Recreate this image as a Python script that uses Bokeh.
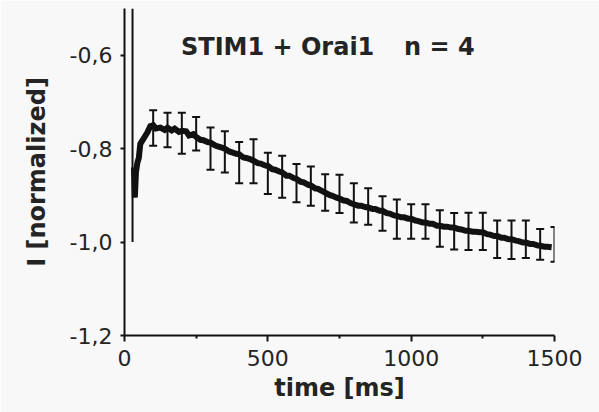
from bokeh.plotting import figure
from bokeh.models import (ColumnDataSource, Whisker, TeeHead, Label, Range1d,
                          FixedTicker)
from bokeh.embed import file_html
from bokeh.resources import INLINE

# ---- data ----
line_t = [33, 36, 40, 45, 50, 55, 60, 70, 80, 90, 100, 110, 125, 140, 150, 165, 175,
          190, 200, 215, 225, 240, 250, 265, 275, 290, 300, 315, 325, 340, 350, 365,
          375, 390, 400, 415, 425, 440, 450, 465, 475, 490, 500, 515, 525, 540, 550,
          565, 575, 590, 600, 615, 625, 640, 650, 665, 675, 690, 700, 715, 725, 740,
          750, 765, 775, 790, 800, 815, 825, 840, 850, 865, 875, 890, 900, 915, 925,
          940, 950, 965, 975, 990, 1000, 1015, 1025, 1040, 1050, 1065, 1075, 1090,
          1100, 1115, 1125, 1140, 1150, 1165, 1175, 1190, 1200, 1215, 1225, 1240,
          1250, 1265, 1275, 1290, 1300, 1315, 1325, 1340, 1350, 1365, 1375, 1390,
          1400, 1415, 1425, 1440, 1450, 1465, 1475, 1490]
line_v = [-0.84, -0.905, -0.85, -0.83, -0.82, -0.79, -0.785, -0.775, -0.765, -0.752,
          -0.750, -0.757, -0.755, -0.760, -0.755, -0.761, -0.757, -0.764, -0.762,
          -0.763, -0.772, -0.769, -0.775, -0.781, -0.782, -0.786, -0.787, -0.793,
          -0.795, -0.798, -0.800, -0.806, -0.808, -0.811, -0.812, -0.819, -0.820,
          -0.823, -0.826, -0.831, -0.832, -0.836, -0.837, -0.844, -0.845, -0.849,
          -0.851, -0.858, -0.858, -0.863, -0.865, -0.871, -0.872, -0.877, -0.879,
          -0.885, -0.886, -0.891, -0.894, -0.899, -0.901, -0.905, -0.907, -0.911,
          -0.912, -0.917, -0.919, -0.922, -0.922, -0.925, -0.926, -0.929, -0.929,
          -0.933, -0.933, -0.938, -0.939, -0.943, -0.944, -0.947, -0.947, -0.950,
          -0.950, -0.954, -0.955, -0.958, -0.958, -0.961, -0.961, -0.965, -0.965,
          -0.967, -0.967, -0.969, -0.969, -0.972, -0.973, -0.976, -0.976, -0.978,
          -0.978, -0.979, -0.979, -0.983, -0.984, -0.987, -0.987, -0.991, -0.991,
          -0.994, -0.994, -0.997, -0.998, -1.001, -1.001, -1.004, -1.004, -1.007,
          -1.008, -1.010, -1.010, -1.011]

err_t = [100, 150, 200, 250, 300, 350, 400, 450, 500, 550, 600, 650, 700, 750, 800,
         850, 900, 950, 1000, 1050, 1100, 1150, 1200, 1250, 1300, 1350, 1400, 1450, 1500]
err_mean = [-0.756, -0.760, -0.767, -0.768, -0.800, -0.807, -0.830, -0.827, -0.853,
            -0.860, -0.874, -0.880, -0.894, -0.897, -0.916, -0.924, -0.939, -0.951,
            -0.956, -0.956, -0.971, -0.977, -0.977, -0.977, -0.994, -0.995, -0.994,
            -1.005, -1.005]
err_sem = [0.038, 0.037, 0.044, 0.036, 0.045, 0.044, 0.044, 0.047, 0.044, 0.045,
           0.041, 0.042, 0.039, 0.041, 0.042, 0.039, 0.037, 0.042, 0.037, 0.037,
           0.039, 0.039, 0.040, 0.040, 0.040, 0.041, 0.040, 0.033, 0.037]

artifact_t = [28]
artifact_low = [-1.0]
artifact_high = [-0.5]

x_ticks = [0, 500, 1000, 1500]
x_minor = [250, 750, 1250]
y_ticks = [-1.2, -1.0, -0.8, -0.6]
y_tick_labels = ["-1,2", "-1,0", "-0,8", "-0,6"]

title_left = "STIM1 + Orai1"
title_right = "n = 4"

# ---- figure ----
BG = "#f8f8f8"
INK = "#111111"
TXT = "#242424"
FONT = "DejaVu Sans"

p = figure(width=599, height=412, output_backend="svg", toolbar_location=None,
           x_range=Range1d(0, 1500), y_range=Range1d(-1.2, -0.5),
           min_border_left=124, min_border_right=45, min_border_top=8,
           min_border_bottom=77)
p.background_fill_color = BG
p.border_fill_color = BG
p.outline_line_color = None
p.grid.visible = False

# artifact line
p.segment(x0=artifact_t, y0=artifact_low, x1=artifact_t, y1=artifact_high,
          line_color=INK, line_width=2)

# error bars
err_src = ColumnDataSource(dict(
    t=err_t,
    upper=[m + s for m, s in zip(err_mean, err_sem)],
    lower=[m - s for m, s in zip(err_mean, err_sem)],
))
w = Whisker(base="t", upper="upper", lower="lower", source=err_src,
            line_color=INK, line_width=2,
            upper_head=TeeHead(size=8, line_color=INK, line_width=2),
            lower_head=TeeHead(size=8, line_color=INK, line_width=2))
p.add_layout(w)

# mean trace
p.line(line_t, line_v, line_color=INK, line_width=6, line_join="miter")

# axes
xa = p.xaxis[0]
xa.ticker = FixedTicker(ticks=x_ticks, minor_ticks=x_minor)
xa.axis_label = "time [ms]"
ya = p.yaxis[0]
ya.ticker = FixedTicker(ticks=y_ticks)
ya.major_label_overrides = {t: lab for t, lab in zip(y_ticks, y_tick_labels)}
ya.axis_label = "I [normalized]"

for ax in (xa, ya):
    ax.axis_line_color = INK
    ax.axis_line_width = 2
    ax.major_tick_line_color = INK
    ax.major_tick_line_width = 2
    ax.major_tick_in = 0
    ax.minor_tick_line_color = INK
    ax.minor_tick_line_width = 2
    ax.minor_tick_in = 0
    ax.major_label_text_font = FONT
    ax.major_label_text_font_size = "22px"
    ax.major_label_text_color = TXT
    ax.axis_label_text_font = FONT
    ax.axis_label_text_font_size = "24px"
    ax.axis_label_text_font_style = "bold"
    ax.axis_label_text_color = TXT

xa.major_tick_out = 6
xa.minor_tick_out = 3
xa.major_label_standoff = 8
xa.axis_label_standoff = 5
ya.major_tick_out = 4
ya.minor_tick_out = 0
ya.minor_tick_line_color = None
ya.major_label_standoff = 8
ya.axis_label_standoff = 16

# title texts
for txt, xpos in ((title_left, 197), (title_right, 975)):
    p.add_layout(Label(x=xpos, y=-0.583, text=txt, text_font=FONT,
                       text_font_size="24px", text_font_style="bold",
                       text_color=TXT, text_baseline="middle", text_align="left"))

open("out.html", "w").write(file_html(p, INLINE))
